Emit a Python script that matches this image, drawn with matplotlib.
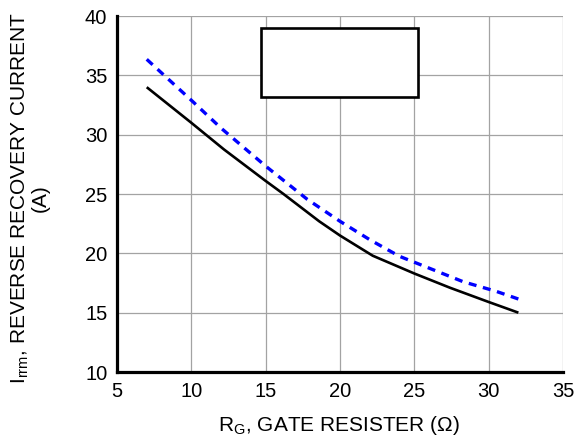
import matplotlib
matplotlib.use("Agg")
import matplotlib.pyplot as plt
from matplotlib.patches import Rectangle

plt.rcParams['font.family'] = ['Liberation Sans', 'DejaVu Sans']
plt.rcParams['mathtext.fontset'] = 'custom'
plt.rcParams['mathtext.rm'] = 'Liberation Sans'

# Data
rg_solid = [7, 10, 12.2, 15, 16.2, 18.6, 20, 22.2, 25, 27.4, 30, 32]
irrm_solid = [34.0, 31.0, 28.75, 26.1, 25.0, 22.7, 21.5, 19.8, 18.3, 17.1, 15.9, 15.0]
rg_dashed = [7, 10, 12, 15, 17.8, 20, 22, 24, 26, 28.3, 30.5, 32]
irrm_dashed = [36.35, 32.9, 30.55, 27.35, 24.55, 22.7, 21.15, 19.75, 18.75, 17.6, 16.8, 16.15]
xticks = [5, 10, 15, 20, 25, 30, 35]
yticks = [10, 15, 20, 25, 30, 35, 40]

fig = plt.figure(figsize=(5.77, 4.44), dpi=100)
ax = fig.add_axes([117/577, 1-372/444, (563-117)/577, (372-16)/444])

ax.plot(rg_solid, irrm_solid, color='black', lw=1.9, solid_joinstyle='round',
        solid_capstyle='butt', zorder=3)
ax.plot(rg_dashed, irrm_dashed, color='#0000ff', lw=2.4, ls=(0, (2.4, 2.0)),
        dash_joinstyle='round', zorder=3)

ax.set_xlim(5, 35)
ax.set_ylim(10, 40)
ax.set_xticks(xticks)
ax.set_yticks(yticks)
ax.grid(True, color='#a3a3a3', lw=0.9)
ax.set_axisbelow(True)
for s in ['top', 'right']:
    ax.spines[s].set_visible(False)
for s in ['left', 'bottom']:
    ax.spines[s].set_linewidth(2.3)
    ax.spines[s].set_color('black')
    ax.spines[s].set_zorder(5)
ax.tick_params(length=0, labelsize=14.5, pad=7)

# empty legend box
ax.add_patch(Rectangle((0.323, 0.772), 0.353, 0.193, transform=ax.transAxes,
                       fc='white', ec='black', lw=1.9, zorder=4, clip_on=False))

ax.set_xlabel(r'R$_\mathregular{G}$, GATE RESISTER (Ω)', fontsize=15)
ax.set_ylabel('I$_\\mathregular{rrm}$, REVERSE RECOVERY CURRENT\n(A)', fontsize=15,
              linespacing=1.0)
ax.xaxis.set_label_coords(0.497, -0.118)
ax.yaxis.set_label_coords(-0.150, 0.489)

fig.savefig('out.png', dpi=100)
